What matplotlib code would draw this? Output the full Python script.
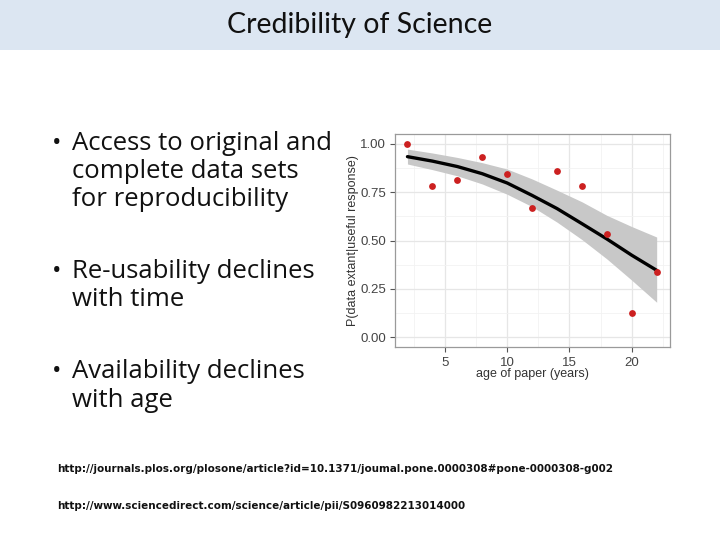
import matplotlib
matplotlib.use("Agg")
import matplotlib.pyplot as plt
from matplotlib.ticker import FixedLocator

# ---- data ----
age = [2, 4, 6, 8, 10, 12, 14, 16, 18, 20, 22]
p_extant = [1.00, 0.782, 0.810, 0.929, 0.846, 0.670, 0.860, 0.779, 0.534, 0.126, 0.335]

fit_x = [2, 4, 6, 8, 10, 12, 14, 16, 18, 20, 22]
fit_y = [0.933, 0.910, 0.882, 0.845, 0.797, 0.733, 0.665, 0.587, 0.508, 0.424, 0.346]
fit_hi = [0.972, 0.952, 0.929, 0.902, 0.869, 0.818, 0.760, 0.700, 0.630, 0.572, 0.518]
fit_lo = [0.895, 0.866, 0.834, 0.792, 0.739, 0.675, 0.595, 0.505, 0.405, 0.295, 0.181]

x_ticks = [5, 10, 15, 20]
y_ticks = [0.00, 0.25, 0.50, 0.75, 1.00]

title = "Credibility of Science"
bullets = [
    ("Access to original and", ["complete data sets", "for reproducibility"]),
    ("Re-usability declines", ["with time"]),
    ("Availability declines", ["with age"]),
]
urls = [
    "http://journals.plos.org/plosone/article?id=10.1371/joumal.pone.0000308#pone-0000308-g002",
    "http://www.sciencedirect.com/science/article/pii/S0960982213014000",
]

fig = plt.figure(figsize=(7.2, 5.4), dpi=100)
W, H = 720, 540

def fx(px):
    return px / W

def fy(py):
    return 1 - py / H

# title band
fig.patches.append(plt.Rectangle((0, fy(50)), 1, 50 / H, transform=fig.transFigure,
                                 facecolor="#dce6f2", edgecolor="none", zorder=0))
fig.text(0.5, fy(25), title, ha="center", va="center", fontsize=20.5,
         family="Lato", color="#111111")

# bullets
bullet_y = [143, 271, 372]
for (first, rest), y0 in zip(bullets, bullet_y):
    fig.text(fx(52), fy(y0), "•", ha="left", va="center", fontsize=18,
             family="Open Sans", color="#111111")
    fig.text(fx(72), fy(y0), first, ha="left", va="center", fontsize=18.5,
             family="Open Sans", color="#111111")
    for i, line in enumerate(rest):
        fig.text(fx(72), fy(y0 + 28.5 * (i + 1)), line, ha="left", va="center",
                 fontsize=18.5, family="Open Sans", color="#111111")

# urls
for u, y0 in zip(urls, [469, 506]):
    fig.text(fx(57), fy(y0), u, ha="left", va="center", fontsize=8.25,
             family="DejaVu Sans", fontstretch="condensed", weight="bold",
             color="#111111")

# chart
ax = fig.add_axes([fx(395), fy(347), (670 - 395) / W, (347 - 134) / H])
ax.set_xlim(1, 23.07)
ax.set_ylim(-0.05, 1.05)
ax.fill_between(fit_x, fit_lo, fit_hi, color="#c8c8c8", lw=0, zorder=2)
ax.plot(fit_x, fit_y, color="black", lw=2.4, zorder=3, solid_capstyle="round",
        solid_joinstyle="round")
ax.scatter(age, p_extant, s=24, color="#cc2020", zorder=4, lw=0)

ax.xaxis.set_major_locator(FixedLocator(x_ticks))
ax.yaxis.set_major_locator(FixedLocator(y_ticks))
ax.xaxis.set_minor_locator(FixedLocator([2.5, 7.5, 12.5, 17.5, 22.5]))
ax.yaxis.set_minor_locator(FixedLocator([0.125, 0.375, 0.625, 0.875]))
ax.grid(True, which="major", color="#e6e6e6", lw=0.9, zorder=0)
ax.grid(True, which="minor", color="#f2f2f2", lw=0.6, zorder=0)
ax.set_axisbelow(True)
ax.set_xticklabels([str(t) for t in x_ticks])
ax.set_yticklabels([f"{t:.2f}" for t in y_ticks])
ax.tick_params(which="major", length=3.5, width=0.8, color="#555555",
               labelsize=9.5, labelcolor="#444444", pad=3)
ax.tick_params(axis="x", which="major", pad=4)
ax.tick_params(which="minor", length=0)
for lab in ax.get_xticklabels() + ax.get_yticklabels():
    lab.set_family("Liberation Sans")
for s in ax.spines.values():
    s.set_color("#9a9a9a")
    s.set_linewidth(0.9)
ax.set_xlabel("age of paper (years)", fontsize=9, color="#333333",
              family="Liberation Sans", labelpad=-1)
ax.set_ylabel("P(data extant|useful response)", fontsize=9, color="#333333",
              family="Liberation Sans", labelpad=1)

fig.savefig("out.png", dpi=100)
